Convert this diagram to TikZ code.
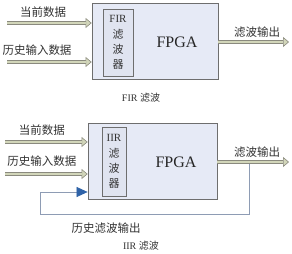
\documentclass[tikz,border=0pt]{standalone}
\usepackage{fontspec}
\setmainfont{Liberation Serif}
\newfontfamily\cjk{Noto Sans CJK SC}
\usetikzlibrary{arrows.meta}
\definecolor{boxfill}{HTML}{E6EAF6}
\definecolor{innerfill}{HTML}{E0E4F0}
\definecolor{boxline}{HTML}{6E6E6E}
\definecolor{arrline}{HTML}{8A8A7E}
\definecolor{arrfill}{HTML}{D2D6BA}
\definecolor{txt}{HTML}{333333}
\definecolor{fbc}{HTML}{8E9CB4}
\definecolor{tri}{HTML}{2F63A8}
\begin{document}
\begin{tikzpicture}[x=1pt,y=-1pt,
  fpga/.style={draw=boxline, fill=boxfill, line width=0.8pt, inner sep=0pt},
  filt/.style={draw=boxline, fill=innerfill, line width=0.6pt, align=center, inner sep=0pt, font=\fontsize{11}{15.3}\selectfont, text=txt},
  lbl/.style={font=\cjk\fontsize{11.5}{13}\selectfont, text=txt, inner sep=0pt},
  chip/.style={font=\fontsize{16}{16}\selectfont, text=black!85, inner sep=0pt},
  captext/.style={font=\fontsize{10}{12}\selectfont, text=txt, inner sep=0pt},
  fat/.style={draw=arrline, line width=4pt, -{Triangle[length=6pt,width=10pt,line width=0.6pt,color=arrline,fill=arrfill]}, postaction={draw=arrfill, line width=2pt, shorten >=6pt, -}},
  fbl/.style={draw=fbc, line width=0.7pt, -{Triangle[length=11pt,width=10pt,color=tri,fill=tri]}},
]
\useasboundingbox (0,0) rectangle (292,254);
\fill[white] (0,0) rectangle (292,254);

% ---------- FIR ----------
\node[fpga, minimum width=126pt, minimum height=76pt] (f1) at (155,41) {};
\node[chip] (t1) at (177,42) {FPGA};
\node[filt, minimum width=30pt, minimum height=67pt] (fir) at (118,42.5) {FIR\\{\cjk 滤}\\{\cjk 波}\\{\cjk 器}};

\coordinate (a1) at (7,23);
\coordinate (a2) at (7,62);
\coordinate (o1) at (289,42);
\draw[fat] (a1) -- (a1 -| f1.west);
\draw[fat] (a2) -- (a2 -| f1.west);
\draw[fat] (o1 -| f1.east) -- (o1);
\node[lbl] (l1) at (43,12) {当前数据};
\node[lbl] (l2) at (37,50) {历史输入数据};
\node[lbl] (l3) at (257,32) {滤波输出};
\node[captext] (c1) at (141,98) {FIR {\cjk 滤波}};

% ---------- IIR ----------
\node[fpga, minimum width=129pt, minimum height=76pt] (f2) at (152.5,161) {};
\node[chip] (t2) at (176,162) {FPGA};
\node[filt, minimum width=24pt, minimum height=69pt] (iir) at (114,161.5) {IIR\\{\cjk 滤}\\{\cjk 波}\\{\cjk 器}};

\coordinate (b1) at (5,142);
\coordinate (b2) at (5,174);
\coordinate (o2) at (289,162);
\coordinate (fbs) at (249,162);
\coordinate (fbd) at (40,214);
\coordinate (fbu) at (40,192);
\draw[fbl] (fbs) |- (fbd) -- (fbu) -- (fbu -| f2.west);
\draw[fat] (b1) -- (b1 -| f2.west);
\draw[fat] (b2) -- (b2 -| f2.west);
\draw[fat] (o2 -| f2.east) -- (o2);
\node[lbl] (m1) at (42,130) {当前数据};
\node[lbl] (m2) at (42,161) {历史输入数据};
\node[lbl] (m3) at (257,152) {滤波输出};
\node[lbl] (m4) at (106,228) {历史滤波输出};
\node[captext] (c2) at (141,246) {IIR {\cjk 滤波}};
\end{tikzpicture}
\end{document}
